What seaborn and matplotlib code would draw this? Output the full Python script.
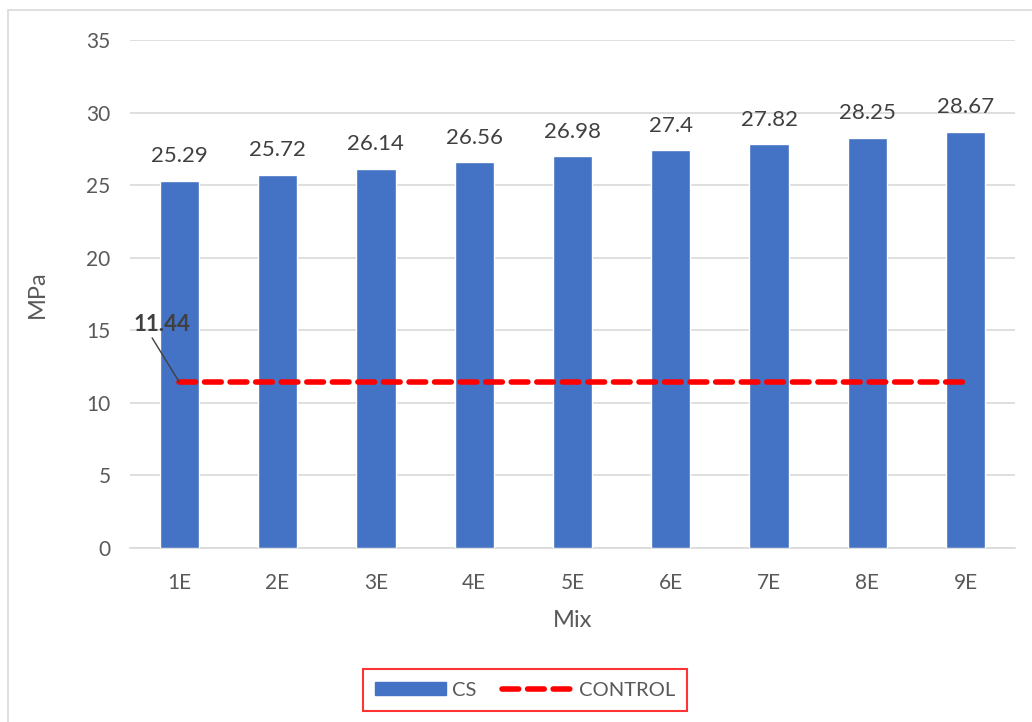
import numpy as np
import pandas as pd
import matplotlib
matplotlib.use('Agg')
import matplotlib.pyplot as plt
import matplotlib.patches as mpatches
from matplotlib.lines import Line2D
import seaborn as sns

mixes = ['1E', '2E', '3E', '4E', '5E', '6E', '7E', '8E', '9E']
cs_values = [25.29, 25.72, 26.14, 26.56, 26.98, 27.4, 27.82, 28.25, 28.67]
control_values = [11.44] * 9
y_ticks = [0, 5, 10, 15, 20, 25, 30, 35]

bar_color = '#4472C4'
text_color = '#595959'

sns.set_theme(style='white')
plt.rcParams['font.family'] = ['Lato', 'DejaVu Sans']

df = pd.DataFrame({'Mix': mixes, 'CS': cs_values})

fig = plt.figure(figsize=(10.32, 7.22), dpi=100)
ax = fig.add_axes([0.126, 0.241, 0.8575, 0.7036])

sns.barplot(data=df, x='Mix', y='CS', color=bar_color, width=0.4,
            saturation=1, ax=ax, zorder=3)

# control line
xs = np.arange(len(mixes))
ax.plot(xs, control_values, color='#FF0000', lw=4, ls=(0, (3, 1.6)),
        dash_capstyle='round', zorder=4)

# data labels
for i, v in enumerate(cs_values):
    ax.text(i, v + 1.0, f'{v:g}', ha='center', va='bottom',
            fontsize=16, color='#404040')

ax.annotate(f'{control_values[0]:.2f}', xy=(0, control_values[0]),
            xytext=(-0.18, 14.7), ha='center', va='bottom',
            fontsize=16, fontweight='bold', color='#404040',
            arrowprops=dict(arrowstyle='-', color='#404040', lw=1.0,
                            shrinkA=0, shrinkB=0,
                            relpos=(0.3, 0.0)), zorder=5)

ax.set_ylim(0, 35)
ax.set_yticks(y_ticks)
ax.set_xlim(-0.5, len(mixes) - 0.5)
ax.yaxis.grid(True, color='#D9D9D9', lw=1.2, zorder=0)
ax.set_axisbelow(True)
for s in ['top', 'right', 'left']:
    ax.spines[s].set_visible(False)
ax.spines['bottom'].set_color('#D9D9D9')
ax.spines['bottom'].set_linewidth(1.2)
ax.tick_params(axis='both', length=0, labelsize=15, colors=text_color)
ax.tick_params(axis='y', pad=14)
ax.tick_params(axis='x', pad=18)
ax.set_xlabel('Mix', fontsize=17, color=text_color, labelpad=12)
ax.set_ylabel('MPa', fontsize=17, color=text_color, labelpad=28)

handles = [mpatches.Patch(color=bar_color, label='CS'),
           Line2D([0], [0], color='#FF0000', lw=4, ls=(0, (3, 1.6)),
                  dash_capstyle='round', label='CONTROL')]
leg = fig.legend(handles=handles, loc='center', bbox_to_anchor=(0.509, 0.0443),
                 ncol=2, frameon=True, fancybox=False, fontsize=14.5,
                 handlelength=3.5, handleheight=0.6, handletextpad=0.3,
                 columnspacing=1.3, borderpad=0.6, borderaxespad=0,
                 labelcolor=text_color)
leg.get_frame().set_edgecolor('#FF0000')
leg.get_frame().set_linewidth(1.5)

# outer chart border
fig.patches.append(mpatches.Rectangle((8 / 1032, -0.01), 1.0, 1 - 10 / 722 + 0.01,
                                      transform=fig.transFigure, fill=False,
                                      edgecolor='#D9D9D9', lw=1.2))

fig.savefig('out.png', dpi=100, facecolor='white')
